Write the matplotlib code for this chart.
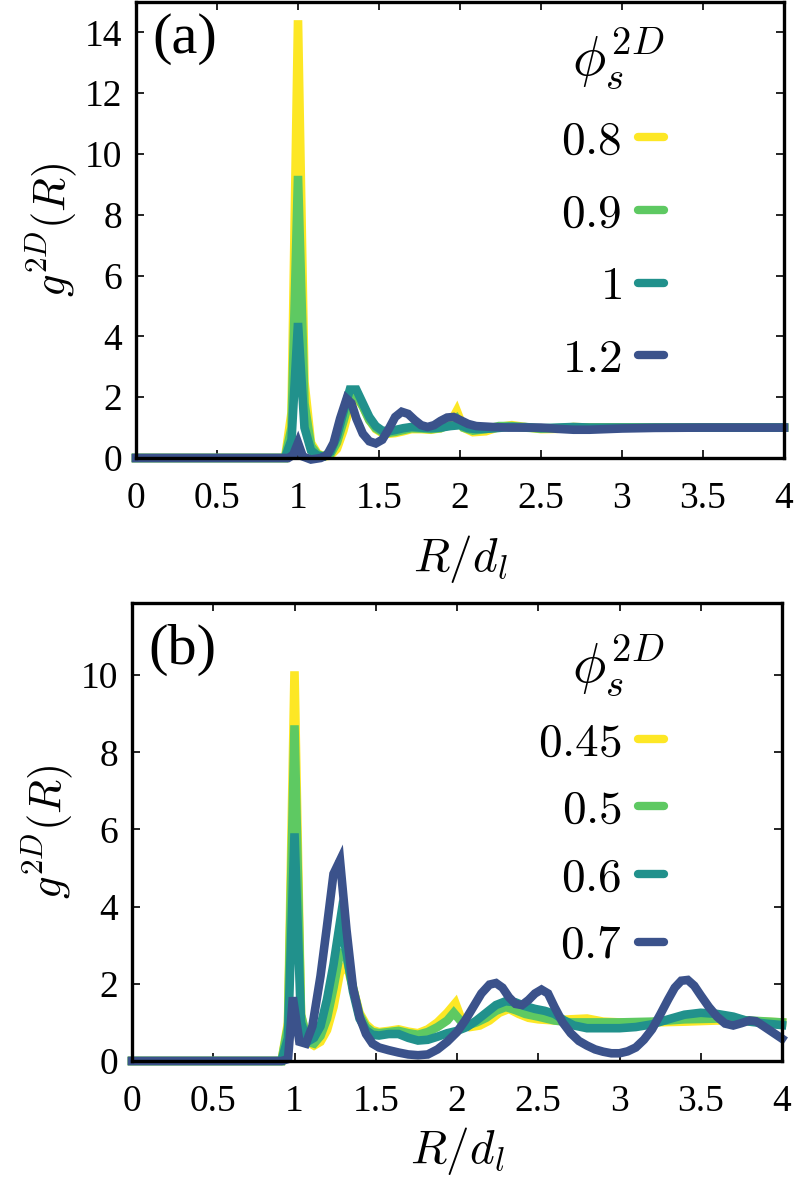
import matplotlib
matplotlib.use("Agg")
import matplotlib.pyplot as plt

plt.rcParams['mathtext.fontset'] = 'cm'
plt.rcParams['font.family'] = 'serif'
plt.rcParams['font.serif'] = ['Liberation Serif', 'DejaVu Serif']

# ---------------- data: panel (a) ----------------
labels_a = ['0.8', '0.9', '1', '1.2']
x_a08 = [0, 0.92, 0.96, 1.0, 1.04, 1.08, 1.12, 1.16, 1.2, 1.24, 1.28, 1.32, 1.36, 1.4, 1.44,
         1.48, 1.52, 1.56, 1.6, 1.65, 1.7, 1.76, 1.82, 1.88, 1.94, 1.98, 2.02, 2.08, 2.16, 2.24,
         2.32, 2.4, 2.5, 2.6, 2.7, 2.8, 3.0, 4.0]
y_a08 = [0, 0, 1.5, 14.4, 2.5, 0.5, 0.15, 0.05, 0.08, 0.3, 0.9, 1.7, 2.0, 1.7, 1.25,
         0.95, 0.82, 0.8, 0.82, 0.88, 0.95, 0.95, 0.93, 0.98, 1.15, 1.55, 1.0, 0.85, 0.88, 1.02,
         1.08, 1.02, 0.95, 0.96, 1.02, 1.0, 1.0, 1.0]
x_a09 = [0, 0.92, 0.96, 1.0, 1.04, 1.08, 1.12, 1.16, 1.2, 1.24, 1.28, 1.32, 1.36, 1.4, 1.44,
         1.48, 1.52, 1.56, 1.6, 1.65, 1.7, 1.76, 1.82, 1.88, 1.94, 1.98, 2.02, 2.08, 2.16, 2.24,
         2.32, 2.4, 2.5, 2.6, 2.7, 2.8, 3.0, 4.0]
y_a09 = [0, 0, 1.0, 9.28, 1.8, 0.4, 0.12, 0.05, 0.12, 0.5, 1.2, 1.95, 2.1, 1.7, 1.25,
         0.98, 0.85, 0.83, 0.86, 0.92, 0.98, 0.97, 0.95, 0.98, 1.1, 1.3, 1.0, 0.9, 0.95, 1.05,
         1.05, 1.0, 0.97, 0.98, 1.0, 1.0, 1.0, 1.0]
x_a10 = [0, 0.92, 0.96, 1.0, 1.04, 1.08, 1.12, 1.16, 1.2, 1.24, 1.28, 1.32, 1.36, 1.4, 1.44,
         1.48, 1.52, 1.56, 1.6, 1.65, 1.7, 1.76, 1.82, 1.88, 1.94, 2.0, 2.05, 2.1, 2.2, 2.3,
         2.4, 2.5, 2.6, 2.7, 2.8, 3.0, 4.0]
y_a10 = [0, 0, 0.6, 4.44, 1.0, 0.25, 0.08, 0.05, 0.2, 0.7, 1.5, 2.25, 2.25, 1.8, 1.35,
         1.05, 0.9, 0.88, 0.92, 0.98, 1.02, 1.0, 0.98, 1.0, 1.05, 1.08, 0.98, 0.95, 0.97, 1.02,
         1.02, 0.98, 1.0, 1.02, 1.0, 1.0, 1.0]
x_a12 = [0, 0.94, 0.97, 1.0, 1.03, 1.08, 1.14, 1.18, 1.22, 1.26, 1.3, 1.33, 1.36, 1.4, 1.44,
         1.48, 1.52, 1.56, 1.6, 1.64, 1.68, 1.72, 1.76, 1.8, 1.84, 1.88, 1.92, 1.96, 2.0, 2.05,
         2.1, 2.2, 2.3, 2.4, 2.5, 2.6, 2.7, 2.8, 2.9, 3.0, 3.2, 3.5, 4.0]
y_a12 = [0, 0, 0.1, 0.5, 0.05, -0.05, 0.0, 0.1, 0.5, 1.3, 1.95, 1.8, 1.3, 0.8, 0.55,
         0.48, 0.6, 0.95, 1.35, 1.52, 1.45, 1.25, 1.08, 1.02, 1.08, 1.22, 1.33, 1.35, 1.25, 1.12,
         1.05, 1.02, 1.0, 1.0, 1.0, 0.96, 0.93, 0.93, 0.95, 0.97, 0.99, 1.0, 1.0]

# ---------------- data: panel (b) ----------------
labels_b = ['0.45', '0.5', '0.6', '0.7']
x_b045 = [0, 0.92, 0.96, 1.0, 1.04, 1.08, 1.12, 1.16, 1.2, 1.24, 1.28, 1.32, 1.36, 1.4, 1.44,
          1.48, 1.52, 1.58, 1.64, 1.7, 1.76, 1.82, 1.88, 1.94, 1.99, 2.03, 2.08, 2.14, 2.2,
          2.26, 2.32, 2.38, 2.44, 2.5, 2.6, 2.7, 2.8, 2.9, 3.0, 3.2, 3.4, 3.6, 3.8, 4.0]
y_b045 = [0, 0, 1.0, 10.1, 1.2, 0.5, 0.4, 0.5, 0.8, 1.4, 2.3, 2.5, 1.9, 1.25, 0.95,
          0.8, 0.75, 0.78, 0.82, 0.76, 0.72, 0.82, 1.0, 1.25, 1.5, 1.05, 0.88, 0.92, 1.05,
          1.25, 1.35, 1.22, 1.12, 1.08, 1.05, 1.08, 1.1, 1.02, 1.0, 1.0, 1.02, 1.05, 1.03, 1.0]
x_b05 = [0, 0.92, 0.96, 1.0, 1.04, 1.08, 1.12, 1.16, 1.2, 1.24, 1.28, 1.32, 1.36, 1.4, 1.44,
         1.48, 1.52, 1.58, 1.64, 1.7, 1.76, 1.82, 1.88, 1.94, 1.98, 2.02, 2.06, 2.12, 2.18,
         2.24, 2.3, 2.36, 2.42, 2.5, 2.6, 2.7, 2.8, 2.9, 3.0, 3.2, 3.4, 3.6, 3.8, 4.0]
y_b05 = [0, 0, 0.9, 8.7, 1.2, 0.5, 0.45, 0.65, 1.1, 1.9, 2.8, 2.7, 1.9, 1.2, 0.88,
         0.75, 0.72, 0.75, 0.78, 0.72, 0.68, 0.75, 0.88, 1.05, 1.25, 1.05, 0.92, 1.0, 1.12,
         1.3, 1.4, 1.32, 1.22, 1.15, 1.05, 1.0, 1.0, 1.0, 1.0, 1.02, 1.08, 1.1, 1.05, 1.0]
x_b06 = [0, 0.92, 0.96, 1.0, 1.04, 1.08, 1.12, 1.16, 1.2, 1.24, 1.28, 1.32, 1.36, 1.4, 1.44,
         1.48, 1.52, 1.58, 1.64, 1.7, 1.76, 1.82, 1.88, 1.94, 2.0, 2.06, 2.12, 2.18, 2.24,
         2.3, 2.36, 2.42, 2.48, 2.54, 2.6, 2.66, 2.72, 2.8, 2.9, 3.0, 3.1, 3.2, 3.3, 3.4, 3.5,
         3.6, 3.7, 3.8, 3.9, 4.0]
y_b06 = [0, 0, 0.6, 5.9, 1.0, 0.5, 0.6, 0.9, 1.6, 2.5, 3.6, 2.8, 1.8, 1.1, 0.8,
         0.68, 0.66, 0.7, 0.7, 0.6, 0.53, 0.55, 0.63, 0.72, 0.78, 0.88, 1.05, 1.25, 1.45,
         1.55, 1.52, 1.42, 1.35, 1.3, 1.22, 1.05, 0.92, 0.85, 0.85, 0.85, 0.88, 0.95, 1.08,
         1.2, 1.25, 1.22, 1.15, 1.02, 0.97, 0.93]
x_b07 = [0, 0.92, 0.96, 0.99, 1.03, 1.07, 1.11, 1.16, 1.2, 1.24, 1.28, 1.32, 1.36, 1.4, 1.44,
         1.48, 1.52, 1.58, 1.64, 1.7, 1.76, 1.82, 1.88, 1.94, 2.0, 2.05, 2.1, 2.15, 2.2, 2.24,
         2.28, 2.32, 2.36, 2.4, 2.44, 2.48, 2.52, 2.56, 2.6, 2.65, 2.7, 2.75, 2.8, 2.85, 2.9,
         2.95, 3.0, 3.05, 3.1, 3.15, 3.2, 3.25, 3.3, 3.34, 3.38, 3.42, 3.46, 3.5, 3.55, 3.6,
         3.65, 3.7, 3.75, 3.8, 3.84, 3.88, 3.94, 4.0]
y_b07 = [0, 0, 0.05, 1.65, 0.5, 0.45, 0.9, 2.2, 3.5, 4.85, 5.2, 3.4, 1.9, 1.15, 0.7,
         0.45, 0.35, 0.28, 0.22, 0.17, 0.15, 0.17, 0.3, 0.5, 0.75, 1.05, 1.4, 1.75, 1.98, 2.02,
         1.9, 1.65, 1.48, 1.45, 1.58, 1.75, 1.85, 1.75, 1.4, 1.0, 0.72, 0.52, 0.4, 0.3, 0.24,
         0.2, 0.2, 0.25, 0.35, 0.55, 0.82, 1.2, 1.6, 1.9, 2.08, 2.1, 1.95, 1.7, 1.4, 1.15,
         0.97, 0.92, 0.98, 1.05, 1.03, 0.92, 0.75, 0.58]

colors = ['#fde725', '#5ec962', '#21918c', '#3b528b']

W, H = 798, 1181
fig = plt.figure(figsize=(W / 100, H / 100), dpi=100)


def px_axes(left, top, right, bottom):
    return fig.add_axes([left / W, 1 - bottom / H, (right - left) / W, (bottom - top) / H])


def style(ax, ylim, yticks):
    ax.set_xlim(0, 4)
    ax.set_ylim(*ylim)
    ax.set_xticks([0, 0.5, 1, 1.5, 2, 2.5, 3, 3.5, 4])
    ax.set_xticklabels(['0', '0.5', '1', '1.5', '2', '2.5', '3', '3.5', '4'])
    ax.set_yticks(yticks)
    ax.set_yticklabels([str(t) for t in yticks])
    ax.tick_params(direction='in', top=True, right=True, length=6, width=1.2,
                   labelsize=27)
    ax.tick_params(axis='x', pad=17)
    ax.tick_params(axis='y', pad=10)
    for s in ax.spines.values():
        s.set_linewidth(2.4)
    ax.set_ylabel(r'$g^{2D}(R)$', fontsize=32, labelpad=4)


def legend(ax, anchor, spacing):
    leg = ax.legend(title=r'$\phi_s^{2D}$', loc='upper right', bbox_to_anchor=anchor,
                    frameon=False, markerfirst=False, fontsize=34, title_fontsize=40,
                    handlelength=0.55, handletextpad=0.35, labelspacing=spacing,
                    borderaxespad=0.0, borderpad=0.0, alignment='right')
    for h in leg.get_lines():
        h.set_solid_capstyle('round')
        h.set_linewidth(6)
    return leg


lw = 6.2

# panel (a)
axa = px_axes(136, 2, 784, 458)
for xs, ys, c, lab in zip([x_a08, x_a09, x_a10, x_a12], [y_a08, y_a09, y_a10, y_a12],
                          colors, labels_a):
    axa.plot(xs, ys, color=c, lw=lw, solid_joinstyle='miter', clip_on=False,
             label='$' + lab + '$')
style(axa, (0, 15), [0, 2, 4, 6, 8, 10, 12, 14])
axa.set_xlabel(r'$R/d_l$', fontsize=34, labelpad=12)
axa.text(0.025, 0.975, '(a)', transform=axa.transAxes, fontsize=42, va='top', ha='left')
legend(axa, ((664 - 136) / 648, 1 - 22 / 456), 0.63)

# panel (b)
axb = px_axes(132, 603, 782, 1061)
for xs, ys, c, lab in zip([x_b045, x_b05, x_b06, x_b07], [y_b045, y_b05, y_b06, y_b07],
                          colors, labels_b):
    axb.plot(xs, ys, color=c, lw=lw, solid_joinstyle='miter', clip_on=False,
             label='$' + lab + '$')
style(axb, (0, 11.87), [0, 2, 4, 6, 8, 10])
axb.set_xlabel(r'$R/d_l$', fontsize=34, labelpad=4)
axb.text(0.025, 0.955, '(b)', transform=axb.transAxes, fontsize=42, va='top', ha='left')
legend(axb, ((664 - 132) / 650, 1 - 28 / 458), 0.52)

fig.savefig('out.png', dpi=100)
